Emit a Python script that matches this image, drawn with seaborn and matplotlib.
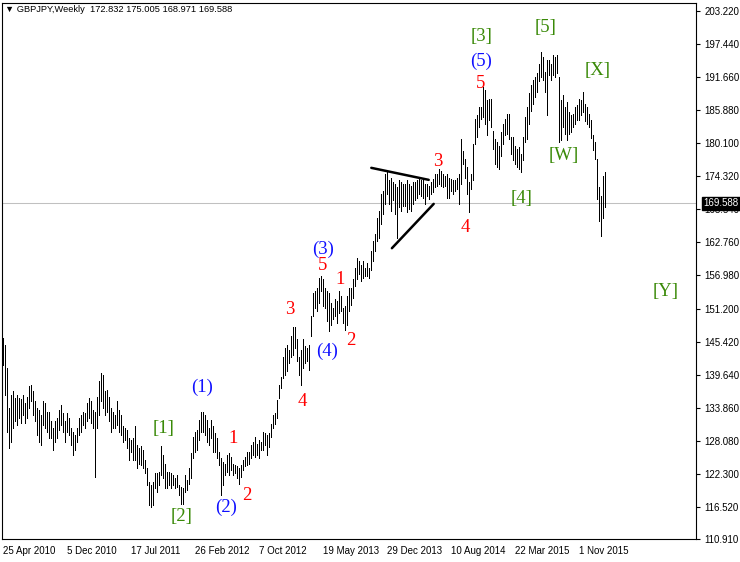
import matplotlib
matplotlib.use("Agg")
import matplotlib.pyplot as plt
import matplotlib.transforms as mtransforms
import numpy as np
import pandas as pd
import seaborn as sns

header_text = "\u25bc GBPJPY,Weekly  172.832 175.005 168.971 169.588"
first_week = "2010-04-25"
last_price = 169.588

# weekly highs / lows (302 bars)
highs = [
    146.1, 144.9, 140.8, 133.8, 136.1, 136.7, 135.5, 136.1, 135.5, 135.3,
    136.1, 134.7, 135.8, 137.6, 137.9, 136.7, 135.0, 133.8, 133.5, 132.6,
    135.0, 134.7, 133.2, 133.2, 131.5, 130.3, 131.5, 132.0, 133.5, 134.4,
    132.9, 131.5, 132.9, 132.0, 130.3, 129.7, 129.1, 130.3, 132.0, 132.6,
    133.2, 132.9, 134.7, 135.5, 135.0, 133.5, 133.2, 135.8, 138.5, 139.9,
    139.6, 136.7, 137.0, 135.8, 133.8, 133.2, 132.6, 135.0, 133.5, 132.6,
    130.6, 130.3, 130.0, 128.5, 128.2, 128.5, 130.6, 127.4, 126.8, 127.1,
    126.5, 124.7, 123.3, 120.9, 120.3, 120.9, 122.4, 122.4, 122.7, 127.1,
    125.6, 124.1, 122.7, 122.7, 122.4, 122.1, 121.5, 122.1, 120.3, 120.0,
    119.8, 122.1, 121.2, 123.3, 125.9, 128.8, 129.7, 130.0, 131.7, 133.2,
    133.2, 132.6, 131.7, 130.3, 131.7, 130.6, 129.4, 128.5, 126.2, 125.0,
    124.4, 124.1, 125.6, 125.9, 125.3, 124.1, 123.8, 123.6, 123.3, 123.8,
    124.7, 125.3, 126.2, 126.2, 127.3, 127.9, 128.8, 127.6, 128.2, 127.9,
    129.7, 129.4, 129.1, 129.4, 131.1, 132.6, 132.9, 135.2, 137.9, 139.3,
    142.8, 144.3, 144.9, 144.0, 146.4, 147.9, 147.9, 145.8, 142.8, 144.0,
    145.8, 144.6, 144.3, 144.9, 149.9, 153.9, 154.3, 154.8, 156.6, 156.9,
    156.3, 154.8, 154.3, 153.9, 152.2, 151.3, 152.8, 152.5, 154.3, 153.4,
    151.3, 151.6, 153.4, 154.8, 154.8, 156.3, 158.3, 160.1, 159.5, 158.9,
    159.5, 158.3, 159.2, 158.3, 161.2, 163.0, 164.2, 167.1, 168.3, 171.2,
    171.8, 174.7, 175.3, 173.6, 174.1, 173.3, 173.0, 172.4, 173.6, 173.3,
    173.0, 173.0, 173.6, 173.0, 172.7, 173.3, 173.3, 173.6, 173.9, 173.6,
    173.9, 173.0, 173.0, 172.7, 173.3, 173.9, 174.7, 174.7, 175.6, 175.3,
    174.7, 174.4, 174.7, 174.1, 173.9, 173.6, 173.6, 174.1, 174.7, 180.9,
    178.8, 177.4, 175.9, 173.3, 174.7, 180.0, 184.4, 185.0, 186.4, 186.4,
    189.9, 189.4, 187.6, 187.9, 187.9, 182.3, 180.9, 180.3, 179.7, 182.0,
    183.5, 184.4, 185.3, 185.3, 181.2, 181.2, 179.7, 179.1, 179.4, 178.2,
    181.2, 184.7, 186.4, 188.8, 190.2, 191.1, 191.6, 192.3, 194.0, 196.1,
    195.2, 192.6, 194.6, 194.6, 194.0, 195.5, 195.2, 195.5, 191.7, 187.6,
    188.5, 186.4, 187.3, 185.6, 185.0, 185.3, 186.4, 186.7, 187.9, 187.6,
    189.1, 187.0, 186.5, 185.2, 184.2, 181.5, 180.3, 177.4, 172.4, 170.9,
    174.4, 175.005,
]
lows = [
    141.4, 136.1, 129.7, 126.8, 127.9, 130.3, 131.5, 130.9, 132.0, 131.2,
    132.6, 131.2, 132.0, 133.8, 135.0, 132.6, 131.5, 129.1, 127.9, 127.4,
    130.9, 130.3, 129.7, 128.5, 128.5, 126.5, 127.9, 128.5, 130.0, 130.9,
    129.7, 127.9, 129.7, 129.1, 127.4, 125.6, 126.5, 127.9, 129.1, 129.7,
    130.9, 130.3, 131.5, 132.0, 131.2, 130.3, 121.8, 130.3, 132.6, 135.0,
    133.8, 132.6, 133.2, 131.5, 129.7, 130.3, 130.3, 130.9, 129.7, 129.1,
    127.9, 128.2, 126.8, 124.7, 126.2, 124.7, 124.7, 123.3, 124.1, 123.8,
    123.3, 122.4, 120.3, 116.8, 116.5, 116.8, 119.8, 119.2, 120.3, 122.1,
    121.5, 119.8, 119.8, 120.3, 119.8, 120.3, 119.8, 120.0, 118.6, 117.1,
    117.1, 119.2, 119.5, 120.6, 121.5, 125.0, 126.2, 126.5, 128.2, 129.7,
    129.7, 129.1, 127.9, 127.4, 128.5, 126.2, 126.2, 125.0, 123.8, 118.6,
    120.3, 122.1, 122.7, 122.1, 123.0, 122.1, 122.4, 121.5, 120.6, 121.8,
    123.0, 123.6, 123.8, 124.1, 125.0, 125.6, 125.3, 125.6, 125.0, 126.4,
    126.4, 127.3, 125.6, 127.0, 128.8, 130.3, 131.1, 132.0, 135.5, 137.3,
    139.0, 139.6, 140.2, 141.7, 142.8, 143.1, 144.3, 142.0, 139.6, 137.9,
    140.8, 141.7, 142.0, 140.5, 146.4, 149.9, 151.3, 150.7, 152.2, 154.3,
    151.6, 151.3, 149.0, 147.2, 148.4, 149.3, 149.9, 148.7, 150.5, 150.7,
    148.7, 147.5, 148.4, 150.7, 151.9, 153.1, 155.1, 156.3, 157.2, 156.0,
    156.6, 156.9, 156.9, 156.6, 158.0, 159.5, 161.3, 163.0, 163.6, 166.0,
    167.7, 169.5, 171.2, 169.5, 168.3, 170.1, 167.7, 163.6, 168.9, 168.3,
    169.2, 169.2, 168.0, 168.6, 168.3, 169.5, 170.1, 170.6, 171.2, 170.9,
    170.6, 169.5, 170.9, 170.3, 171.2, 171.5, 172.4, 172.7, 173.0, 172.7,
    172.4, 172.7, 170.6, 170.6, 171.8, 171.2, 171.8, 172.1, 169.5, 173.0,
    176.5, 174.1, 171.2, 168.0, 172.1, 173.6, 180.0, 181.2, 182.9, 184.4,
    184.7, 183.5, 181.5, 184.1, 182.9, 179.1, 176.5, 175.9, 175.6, 177.9,
    180.0, 181.5, 181.8, 180.9, 178.2, 177.1, 176.5, 175.9, 175.6, 175.0,
    177.1, 180.3, 180.9, 183.5, 185.8, 187.0, 188.2, 189.0, 191.0, 191.7,
    191.1, 189.1, 185.0, 192.0, 191.1, 192.0, 191.7, 192.3, 180.3, 180.6,
    182.9, 181.8, 180.6, 181.8, 182.0, 182.9, 183.5, 184.1, 184.1, 185.0,
    185.5, 184.0, 183.5, 183.0, 181.0, 179.0, 177.4, 170.3, 166.5, 163.9,
    167.1, 168.971,
]

date_labels = ["25 Apr 2010", "5 Dec 2010", "17 Jul 2011", "26 Feb 2012", "7 Oct 2012",
               "19 May 2013", "29 Dec 2013", "10 Aug 2014", "22 Mar 2015", "1 Nov 2015"]
price_ticks = [203.22, 197.44, 191.66, 185.88, 180.10, 174.32, 168.54, 162.76, 156.98,
               151.20, 145.42, 139.64, 133.86, 128.08, 122.30, 116.52, 110.91]

# elliott wave marks: text, bar index, price, kind
wave_text = ["[1]", "[2]", "(1)", "(2)", "1", "2", "3", "4", "(3)", "5", "1", "(4)", "2",
             "3", "4", "[3]", "(5)", "5", "[4]", "[5]", "[X]", "[W]", "[Y]"]
wave_bar = [80, 89, 99.5, 111.5, 115, 122, 143, 149.5, 160, 159.5, 168.5, 162, 174,
            217, 231, 239, 239, 238.5, 259, 271, 297, 280, 331]
wave_price = [130.2, 114.9, 137.4, 116.4, 128.5, 118.6, 151.1, 134.9, 161.5, 158.8, 156.2,
              143.7, 145.6, 176.9, 165.3, 198.7, 194.4, 190.6, 170.4, 200.4, 192.9, 178.0, 154.1]
wave_kind = ["major", "major", "inter", "inter", "minor", "minor", "minor", "minor", "inter",
             "minor", "minor", "inter", "minor", "minor", "minor", "major", "inter", "minor",
             "major", "major", "major", "major", "major"]

# triangle trend lines (bar index, price)
upper_line_bar = [184, 212.7]
upper_line_price = [175.8, 173.7]
lower_line_bar = [194.3, 215.2]
lower_line_price = [161.75, 169.5]

kind_colors = {"major": "#3a8a08", "inter": "#1010ff", "minor": "#ff0000"}

sns.set_theme(style="white")
plt.rcParams["font.family"] = ["Liberation Sans", "DejaVu Sans"]

bars = pd.DataFrame({"high": highs, "low": lows})
bars["date"] = pd.date_range(first_week, periods=len(bars), freq="7D")
bars["x"] = np.arange(len(bars))

fig = plt.figure(figsize=(7.4, 5.62), dpi=100)
ax = fig.add_axes([2 / 740, 23 / 562, 694 / 740, 536 / 562])
ax.set_facecolor("white")

ax.axhline(last_price, color="#c0c0c0", lw=0.75, zorder=0)
ax.vlines(bars["x"], bars["low"], bars["high"], colors="black", linewidth=0.5,
          antialiased=False, zorder=2)

sns.lineplot(x=upper_line_bar, y=upper_line_price, color="black", lw=1.8, ax=ax,
             sort=False, estimator=None)
sns.lineplot(x=lower_line_bar, y=lower_line_price, color="black", lw=1.8, ax=ax,
             sort=False, estimator=None)

for txt, xb, pr, kind in zip(wave_text, wave_bar, wave_price, wave_kind):
    ax.text(xb, pr, txt, color=kind_colors[kind], fontsize=13.5, ha="center", va="center",
            family=["Liberation Serif", "DejaVu Serif"], zorder=3)

ax.set_xlim(-0.65, 346.35)
ax.set_ylim(110.91, 204.62)

tick_dates = pd.to_datetime(date_labels, format="%d %b %Y")
tick_pos = bars.set_index("date").loc[tick_dates, "x"].values
ax.set_xticks(tick_pos)
ax.set_xticklabels(date_labels, ha="left")
ax.set_yticks(price_ticks)
ax.set_yticklabels([f"{p:.3f}" for p in price_ticks])
ax.yaxis.tick_right()
ax.tick_params(axis="both", direction="out", length=3, width=0.8, color="black",
               labelsize=7, labelcolor="black")
ax.tick_params(axis="y", pad=3)
ax.tick_params(axis="x", pad=2)

for sp in ax.spines.values():
    sp.set_color("black")
    sp.set_linewidth(0.8)

blend = mtransforms.blended_transform_factory(ax.transAxes, ax.transData)
ax.text(1.011, last_price, f"{last_price:.3f}", transform=blend, ha="left", va="center",
        color="white", fontsize=7, zorder=5, clip_on=False,
        bbox=dict(facecolor="black", edgecolor="black", boxstyle="square,pad=0.15"))

fig.text(5 / 740, 1 - 10 / 562, header_text, fontsize=6.7, va="center", ha="left",
         color="black")

fig.savefig("out.png", dpi=100, facecolor="white")
